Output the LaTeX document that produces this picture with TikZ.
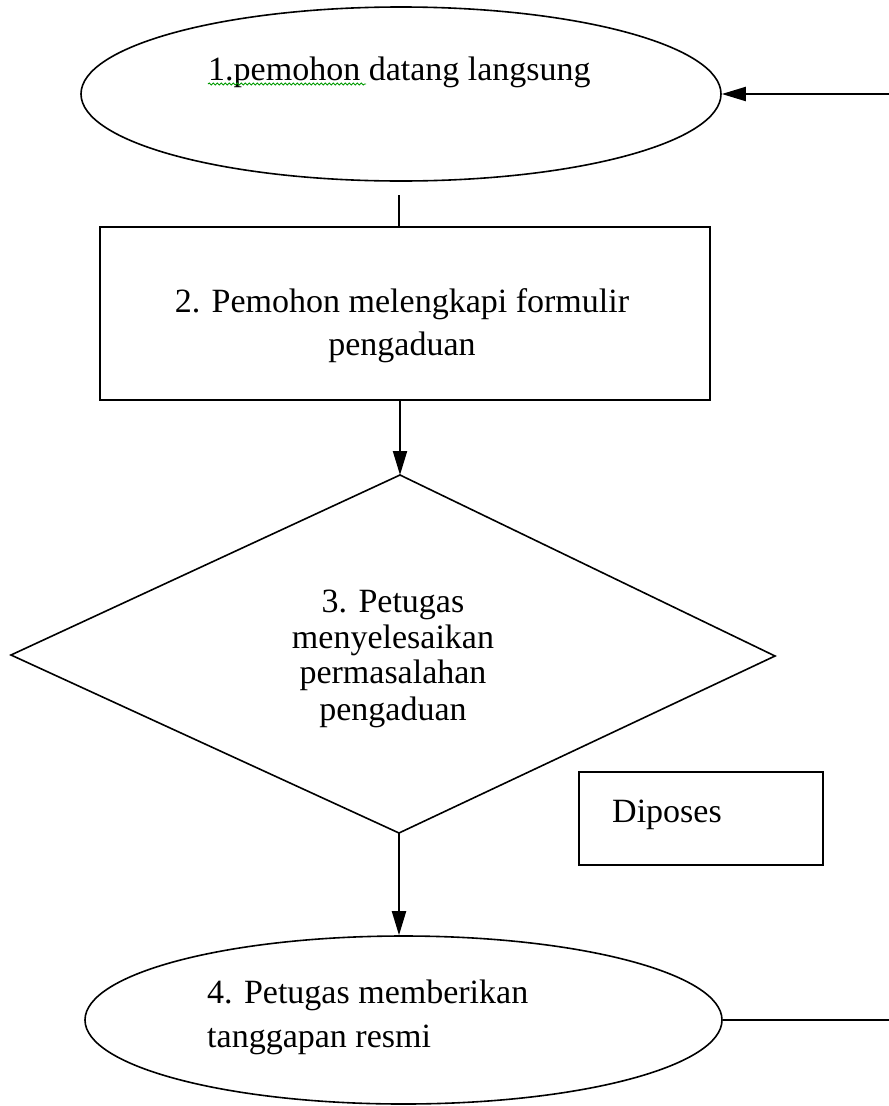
\documentclass[tikz,border=0pt]{standalone}
\usepackage{fontspec}
\setmainfont{Liberation Serif}
\usetikzlibrary{shapes.geometric,arrows.meta,decorations.pathmorphing}
\begin{document}
\begin{tikzpicture}[x=1pt,y=-1pt,
  txt/.style={inner sep=0pt,font=\fontsize{34}{40}\selectfont},
  oval/.style={draw,ellipse,line width=1.6pt,inner sep=0pt},
  boxshape/.style={draw,rectangle,line width=2.4pt,inner sep=0pt},
  decideline/.style={draw,line width=1.6pt,line join=miter},
  conn/.style={line width=2pt},
  arr/.style={conn,-{Triangle[width=14pt,length=24pt]}}]
\useasboundingbox (0,0) rectangle (889,1106);
% shapes
\node[oval,minimum width=640pt,minimum height=174pt] (e1) at (401,94) {};
\node[boxshape,minimum width=610pt,minimum height=173pt] (r2) at (405,313.5) {};
\coordinate (d3n) at (400,475);
\coordinate (d3w) at (11,655);
\coordinate (d3e) at (775,656);
\coordinate (d3s) at (399,833);
\path[decideline] (d3n) -- (d3e) -- (d3s) -- (d3w) -- cycle;
\node[boxshape,minimum width=244pt,minimum height=93pt] (p) at (701,818.5) {};
\node[oval,minimum width=637pt,minimum height=168pt] (e4) at (403.5,1020) {};
% texts
\node[txt,anchor=base west] (t1) at (208,80) {1.pemohon datang langsung};
\node[txt,anchor=base] (t2a) at (402,312) {2. Pemohon melengkapi formulir};
\node[txt,anchor=base] (t2b) at (402,355) {pengaduan};
\node[txt,anchor=base] (t3a) at (393,612) {3. Petugas};
\node[txt,anchor=base] (t3b) at (393,648) {menyelesaikan};
\node[txt,anchor=base] (t3c) at (393,683) {permasalahan};
\node[txt,anchor=base] (t3d) at (393,720) {pengaduan};
\node[txt,anchor=base west] (tp) at (612,822) {Diposes};
\node[txt,anchor=base west] (t4a) at (207,1003) {4. Petugas memberikan};
\node[txt,anchor=base west] (t4b) at (207,1047) {tanggapan resmi};
% spell-check squiggle
\draw[green!60!black,line width=0.9pt,decorate,decoration={snake,amplitude=1pt,segment length=4pt}]
  ([yshift=-4pt]t1.base west) -- ++(158,0);
% connectors
\coordinate (inR) at (889,94);
\coordinate (c1) at (399,195);
\coordinate (outR) at (889,1020);
\draw[arr] (inR) -- (e1.east);
\draw[conn] (c1) -- (c1 |- r2.north);
\draw[arr] (r2.south -| d3n) -- (d3n);
\draw[arr] (d3s) -- (e4.north -| d3s);
\draw[conn] (e4.east) -- (e4.east -| outR);
\end{tikzpicture}
\end{document}
